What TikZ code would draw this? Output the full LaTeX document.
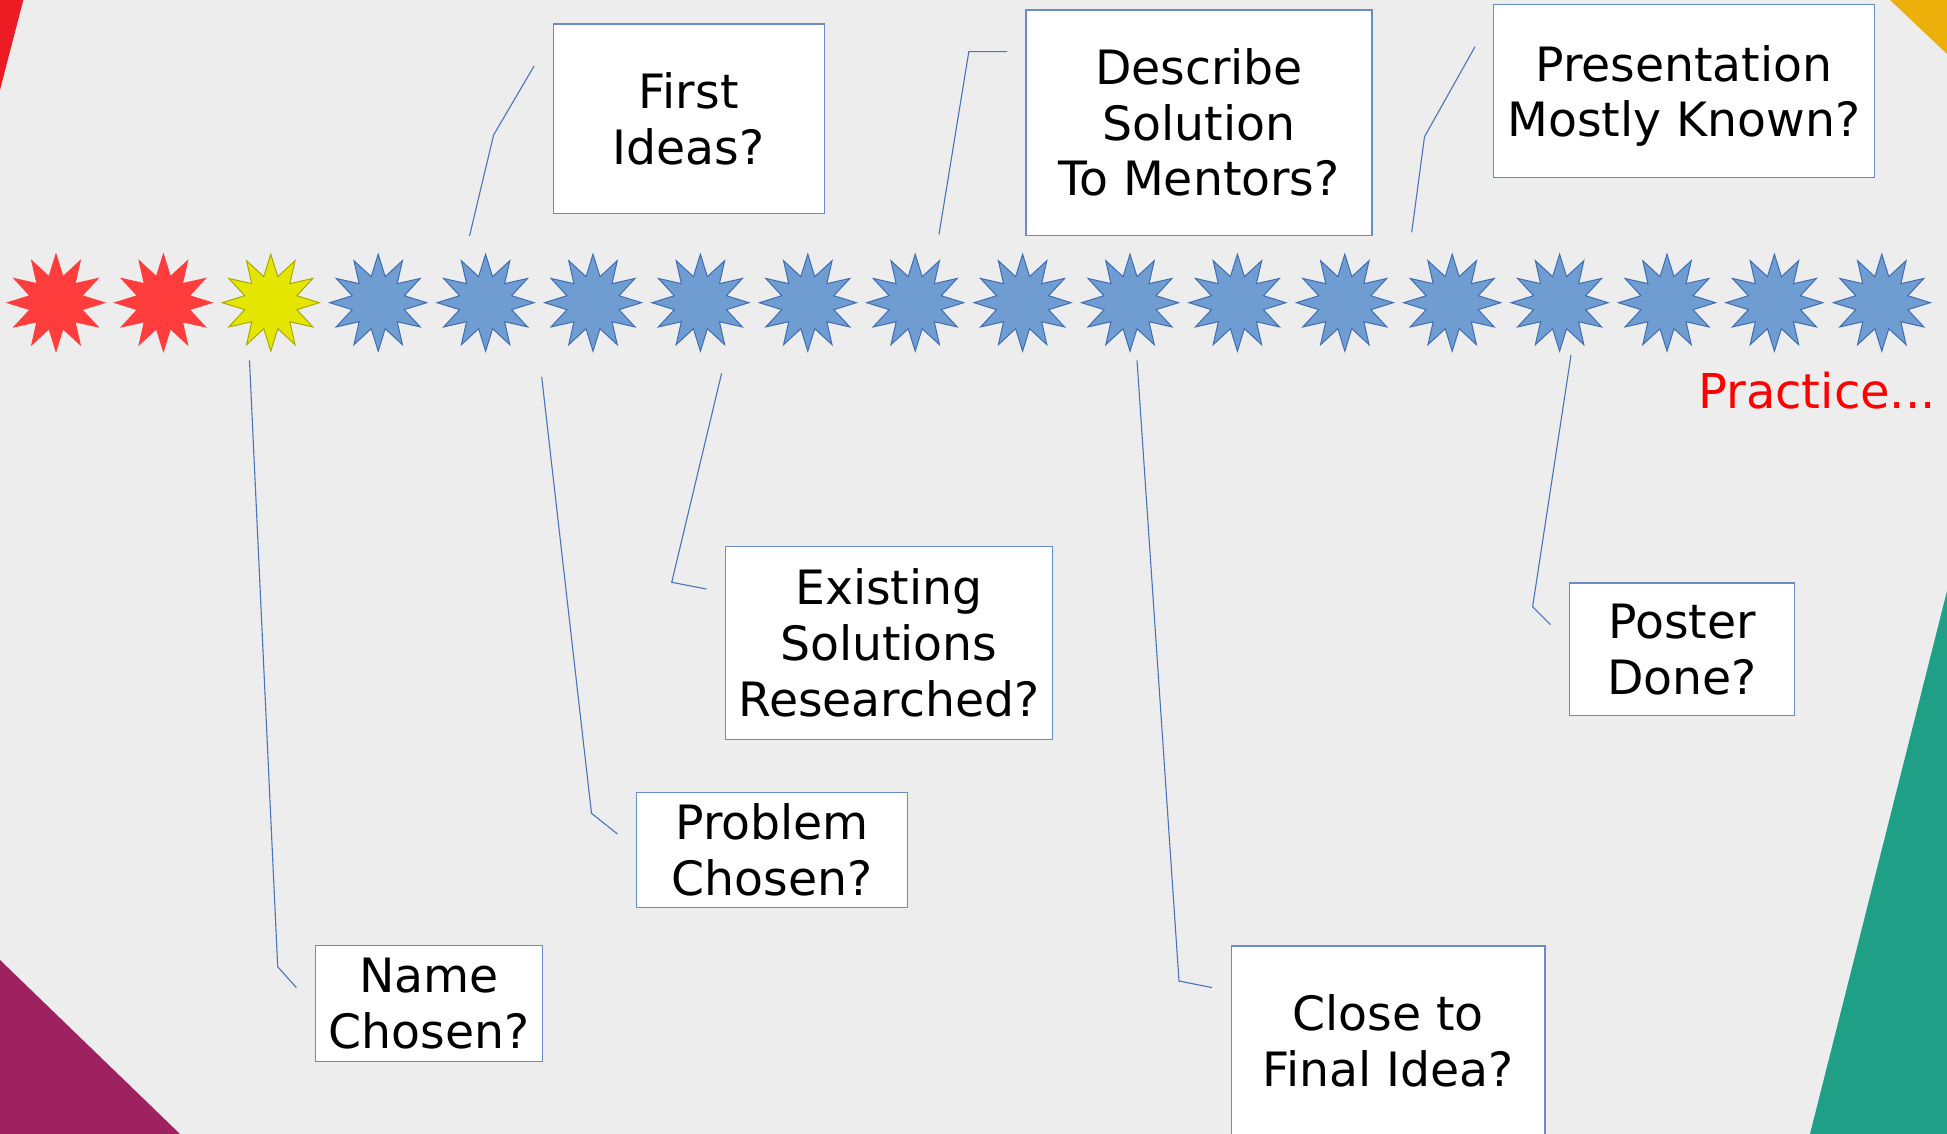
\documentclass[tikz,border=0pt]{standalone}
\usepackage{fontspec}
\setmainfont{DejaVu Sans}
\usetikzlibrary{shapes.geometric}
\definecolor{bg}{HTML}{EDEDED}
\definecolor{cred}{HTML}{ED1C24}
\definecolor{cyel}{HTML}{EBB00A}
\definecolor{cpur}{HTML}{9E2260}
\definecolor{cteal}{HTML}{1FA086}
\definecolor{starred}{HTML}{FF3D3D}
\definecolor{staryel}{HTML}{E5E600}
\definecolor{staryelb}{HTML}{A9A900}
\definecolor{starblue}{HTML}{6F9DD1}
\definecolor{starblueb}{HTML}{3F6DB3}
\definecolor{boxline}{HTML}{6A8CC4}
\definecolor{leadline}{HTML}{4A74B8}
\begin{document}
\begin{tikzpicture}[x=1pt,y=-1pt,
  box/.style={draw=boxline, line width=1.3pt, fill=white, align=center, inner sep=0pt,
    font=\fontsize{47.3}{55.7}\selectfont},
  starshape/.style={star, star points=12, star point ratio=1.8, minimum size=97pt,
    inner sep=0pt, line width=1pt},
  redstar/.style={starshape, fill=starred, draw=starred},
  yelstar/.style={starshape, fill=staryel, draw=staryelb},
  bluestar/.style={starshape, fill=starblue, draw=starblueb},
  leader/.style={draw=leadline, line width=1.1pt}]
\useasboundingbox (0,0) rectangle (1947,1134);
\clip (0,0) rectangle (1947,1134);
\fill[bg] (0,0) rectangle (1947,1134);
% corner decorations
\fill[cred] (0,0) -- (23.3,0) -- (0,90) -- cycle;
\fill[cyel] (1890,0) -- (1947,0) -- (1947,54) -- cycle;
\fill[cpur] (0,960) -- (180,1134) -- (0,1134) -- cycle;
\fill[cteal] (1947,591) -- (1810,1134) -- (1947,1134) -- cycle;
% stars
\node[redstar] (s0) at (56,302.7) {};
\node[redstar] (s1) at (163.4,302.7) {};
\node[yelstar] (s2) at (270.8,302.7) {};
\foreach \i in {3,...,17}
  \node[bluestar] (s\i) at ({56+107.4*\i},302.7) {};
% boxes
\node[box, minimum width=270.9pt, minimum height=189.3pt] (first) at (688.75,118.65) {First\\Ideas?};
\node[box, minimum width=346pt, minimum height=225.3pt] (describe) at (1199,122.65) {Describe\\Solution\\To Mentors?};
\node[box, minimum width=381pt, minimum height=172.6pt] (present) at (1683.8,91) {Presentation\\\raisebox{0pt}[\height][0pt]{Mostly Known?}};
\node[box, minimum width=326.8pt, minimum height=192.4pt] (existing) at (888.8,643) {Existing\\Solutions\\Researched?};
\node[box, minimum width=271pt, minimum height=115.2pt] (problem) at (772,849.8) {Problem\\Chosen?};
\node[box, minimum width=226.8pt, minimum height=115.6pt] (name) at (429,1003.5) {Name\\Chosen?};
\node[box, minimum width=313.7pt, minimum height=189.4pt] (close) at (1388.15,1040.7) {Close to\\Final Idea?};
\node[box, minimum width=225pt, minimum height=132.5pt] (poster) at (1682.1,649.25) {Poster\\Done?};
% practice
\node[anchor=base west, inner sep=0pt, text=red, font=\fontsize{48}{56}\selectfont] (practice) at (1698,408.5) {Practice...};
% leader lines
\coordinate (nA) at (249.5,360.4); \coordinate (nB) at (277.7,966.7); \coordinate (nC) at (296.4,987.7);
\coordinate (pA) at (541.7,377); \coordinate (pB) at (591.5,813.3); \coordinate (pC) at (617.5,834);
\coordinate (eA) at (721.6,373.3); \coordinate (eB) at (671.7,582.3); \coordinate (eC) at (706.4,589);
\coordinate (fA) at (469.5,236); \coordinate (fB) at (493.6,135); \coordinate (fC) at (534.1,66);
\coordinate (dA) at (939,234.3); \coordinate (dB) at (968.8,51.7); \coordinate (dC) at (1007.1,51.7);
\coordinate (mA) at (1411.7,232.3); \coordinate (mB) at (1424.5,136.7); \coordinate (mC) at (1475,46.7);
\coordinate (cA) at (1137,360.3); \coordinate (cB) at (1179,981); \coordinate (cC) at (1212,987.6);
\coordinate (oA) at (1571,355.2); \coordinate (oB) at (1532.6,606.8); \coordinate (oC) at (1550.4,624.6);
\draw[leader] (nA) -- (nB) -- (nC);
\draw[leader] (pA) -- (pB) -- (pC);
\draw[leader] (eA) -- (eB) -- (eC);
\draw[leader] (fA) -- (fB) -- (fC);
\draw[leader] (dA) -- (dB) -- (dC);
\draw[leader] (mA) -- (mB) -- (mC);
\draw[leader] (cA) -- (cB) -- (cC);
\draw[leader] (oA) -- (oB) -- (oC);
\end{tikzpicture}
\end{document}
